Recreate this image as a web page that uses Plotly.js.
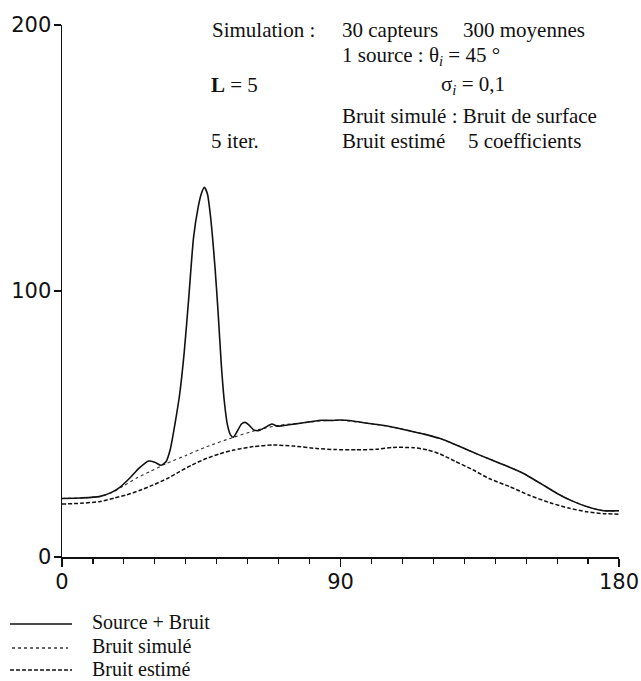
<!DOCTYPE html>
<html>
<head>
<meta charset="utf-8">
<script src="https://cdn.plot.ly/plotly-3.0.1.min.js"></script>
<style>html,body{margin:0;padding:0;background:#fff;}#chart{width:641px;height:681px;}</style>
</head>
<body>
<div id="chart"></div>
<script>
// ---- Data ----
// Source + Bruit (solid)
var sourceX = [0, 6, 12, 16, 19, 22, 25, 28, 30, 32, 33.6, 35, 36.5, 38, 39.5, 41, 42.5, 44, 45, 46, 47, 48, 49.5, 50.5, 51.5, 52.5, 53.5, 54.5, 55.3, 56.5, 58, 59.2, 60.5, 62, 63.5, 65.5, 67.8, 69.5, 71, 74, 77, 80, 84, 87, 90, 94, 98, 103, 107, 112, 117, 122, 128, 135, 142, 149, 155, 160, 165, 170, 175, 180];
var sourceY = [22, 22.2, 22.7, 24.3, 26.5, 29.8, 33.5, 36.1, 35.6, 34.5, 35.8, 40.5, 50, 61, 77, 98, 120, 131.5, 136.5, 139, 136.5, 128, 108, 91, 72, 58, 49.5, 45.8, 45, 47, 50, 50.6, 49.5, 47.8, 47.5, 48.6, 50, 49.2, 49.3, 49.8, 50.3, 50.8, 51.4, 51.3, 51.5, 51.1, 50.4, 49.6, 48.8, 47.5, 46.2, 44.6, 41.8, 38.3, 35, 31.5, 27.4, 23.9, 21, 18.8, 17.4, 17.4];
// Bruit simulé (dotted)
var simX = [0, 6, 12, 16, 20, 24, 28.4, 33.8, 40.3, 46.8, 55.4, 62.9, 70.5, 77, 84, 90, 98, 107, 117, 122, 128, 135, 142, 149, 155, 160, 165, 170, 175, 180];
var simY = [22, 22.2, 22.7, 24.2, 26.8, 29.6, 32.1, 35.2, 38.3, 41.5, 45, 47.7, 49.6, 50.3, 51.2, 51.4, 50.4, 48.8, 46.2, 44.6, 41.8, 38.3, 35, 31.5, 27.4, 23.9, 21, 18.8, 17.4, 17.4];
// Bruit estimé (dashed)
var estX = [0, 6, 12, 17, 21, 25, 29.5, 34, 38, 42, 46.8, 51, 55.4, 61.8, 68.3, 74.8, 82.3, 88, 95, 101.7, 107, 113.5, 118, 122.2, 127, 132.9, 138, 144.8, 151, 157.7, 164, 169.6, 175, 180];
var estY = [19.9, 20.2, 20.8, 22.2, 23.4, 25, 27.1, 29.5, 32.1, 34.6, 37.1, 38.8, 40.2, 41.5, 42.1, 41.7, 40.8, 40.4, 40.3, 40.5, 41.2, 41.1, 40.3, 38.7, 36, 32.7, 29.5, 26.4, 23.2, 20.4, 18.3, 17, 16.3, 16.1];

var seriesNames = ["Source + Bruit", "Bruit simulé", "Bruit estimé"];
var xTicks = [0, 90, 180];
var xTickText = ["0", "90", "180"];
var yTicks = [0, 100, 200];
var yTickText = ["0", "100", "200"];

var infoLeft = ["Simulation :", "<b>L</b> = 5", "5 iter."];
var infoRight = ["30 capteurs", "300 moyennes", "1 source : θ<sub><i>i</i></sub> = 45 °", "σ<sub><i>i</i></sub> = 0,1", "Bruit simulé : Bruit de surface", "Bruit estimé", "5 coefficients"];

// ---- Layout helpers (pixel -> paper) ----
var W = 641, H = 681, ML = 62, MR = 22, MT = 25, MB = 124;
var PW = W - ML - MR, PH = H - MT - MB;
function px(x) { return (x - ML) / PW; }
function py(y) { return (H - MB - y) / PH; }

var serif = "Liberation Serif, Times New Roman, serif";
var txtFont = {family: serif, size: 21, color: "#111"};
var legFont = {family: serif, size: 20, color: "#111"};

var traces = [
  {x: estX, y: estY, name: seriesNames[2], mode: "lines", line: {color: "#111", width: 1.5, dash: "4px,2px", shape: "spline", smoothing: 0.6}},
  {x: simX, y: simY, name: seriesNames[1], mode: "lines", line: {color: "#333", width: 1.1, dash: "dot", shape: "spline", smoothing: 0.6}},
  {x: sourceX, y: sourceY, name: seriesNames[0], mode: "lines", line: {color: "#111", width: 1.6, shape: "spline", smoothing: 0.6}}
];

function ann(text, x, y, font) {
  return {text: text, xref: "paper", yref: "paper", x: px(x), y: py(y), xanchor: "left", yanchor: "middle", showarrow: false, font: font || txtFont, borderpad: 0};
}
var annotations = [
  ann(infoLeft[0], 211, 30),
  ann(infoRight[0], 341, 30),
  ann(infoRight[1], 462, 30),
  ann(infoRight[2], 341, 56),
  ann(infoLeft[1], 210, 85),
  ann(infoRight[3], 440, 85),
  ann(infoRight[4], 341, 116),
  ann(infoLeft[2], 210, 141),
  ann(infoRight[5], 341, 141),
  ann(infoRight[6], 467, 141),
  ann(seriesNames[0], 91, 622, legFont),
  ann(seriesNames[1], 91, 646, legFont),
  ann(seriesNames[2], 91, 669, legFont)
];
var shapes = [
  {type: "line", xref: "paper", yref: "paper", x0: px(10), x1: px(72), y0: py(624), y1: py(624), line: {color: "#111", width: 1.6}},
  {type: "line", xref: "paper", yref: "paper", x0: px(12), x1: px(68), y0: py(648), y1: py(648), line: {color: "#333", width: 1.3, dash: "dot"}},
  {type: "line", xref: "paper", yref: "paper", x0: px(10), x1: px(72), y0: py(670), y1: py(670), line: {color: "#111", width: 1.3, dash: "4px,2px"}}
];

var tickFont = {family: "DejaVu Sans, sans-serif", size: 21, color: "#111"};
var layout = {
  width: W, height: H, autosize: false,
  margin: {l: ML, r: MR, t: MT, b: MB, pad: 0},
  paper_bgcolor: "#fff", plot_bgcolor: "#fff",
  showlegend: false,
  xaxis: {
    range: [0, 180], tickmode: "array", tickvals: xTicks, ticktext: xTickText,
    ticks: "outside", ticklen: 8, tickwidth: 1.4, tickcolor: "#111",
    minor: {ticks: "outside", tickmode: "linear", tick0: 0, dtick: 10, ticklen: 5, tickwidth: 1.2, tickcolor: "#111", showgrid: false},
    showline: true, linecolor: "#111", linewidth: 1.5, showgrid: false, zeroline: false,
    tickfont: tickFont, ticklabelstandoff: -3, fixedrange: true
  },
  yaxis: {
    range: [0, 200], tickmode: "array", tickvals: yTicks, ticktext: yTickText,
    ticks: "outside", ticklen: 7, tickwidth: 1.4, tickcolor: "#111",
    showline: true, linecolor: "#111", linewidth: 1.5, showgrid: false, zeroline: false,
    tickfont: tickFont, ticklabelstandoff: -2, fixedrange: true
  },
  annotations: annotations,
  shapes: shapes
};
Plotly.newPlot("chart", traces, layout, {staticPlot: true, displayModeBar: false});
</script>
</body>
</html>
